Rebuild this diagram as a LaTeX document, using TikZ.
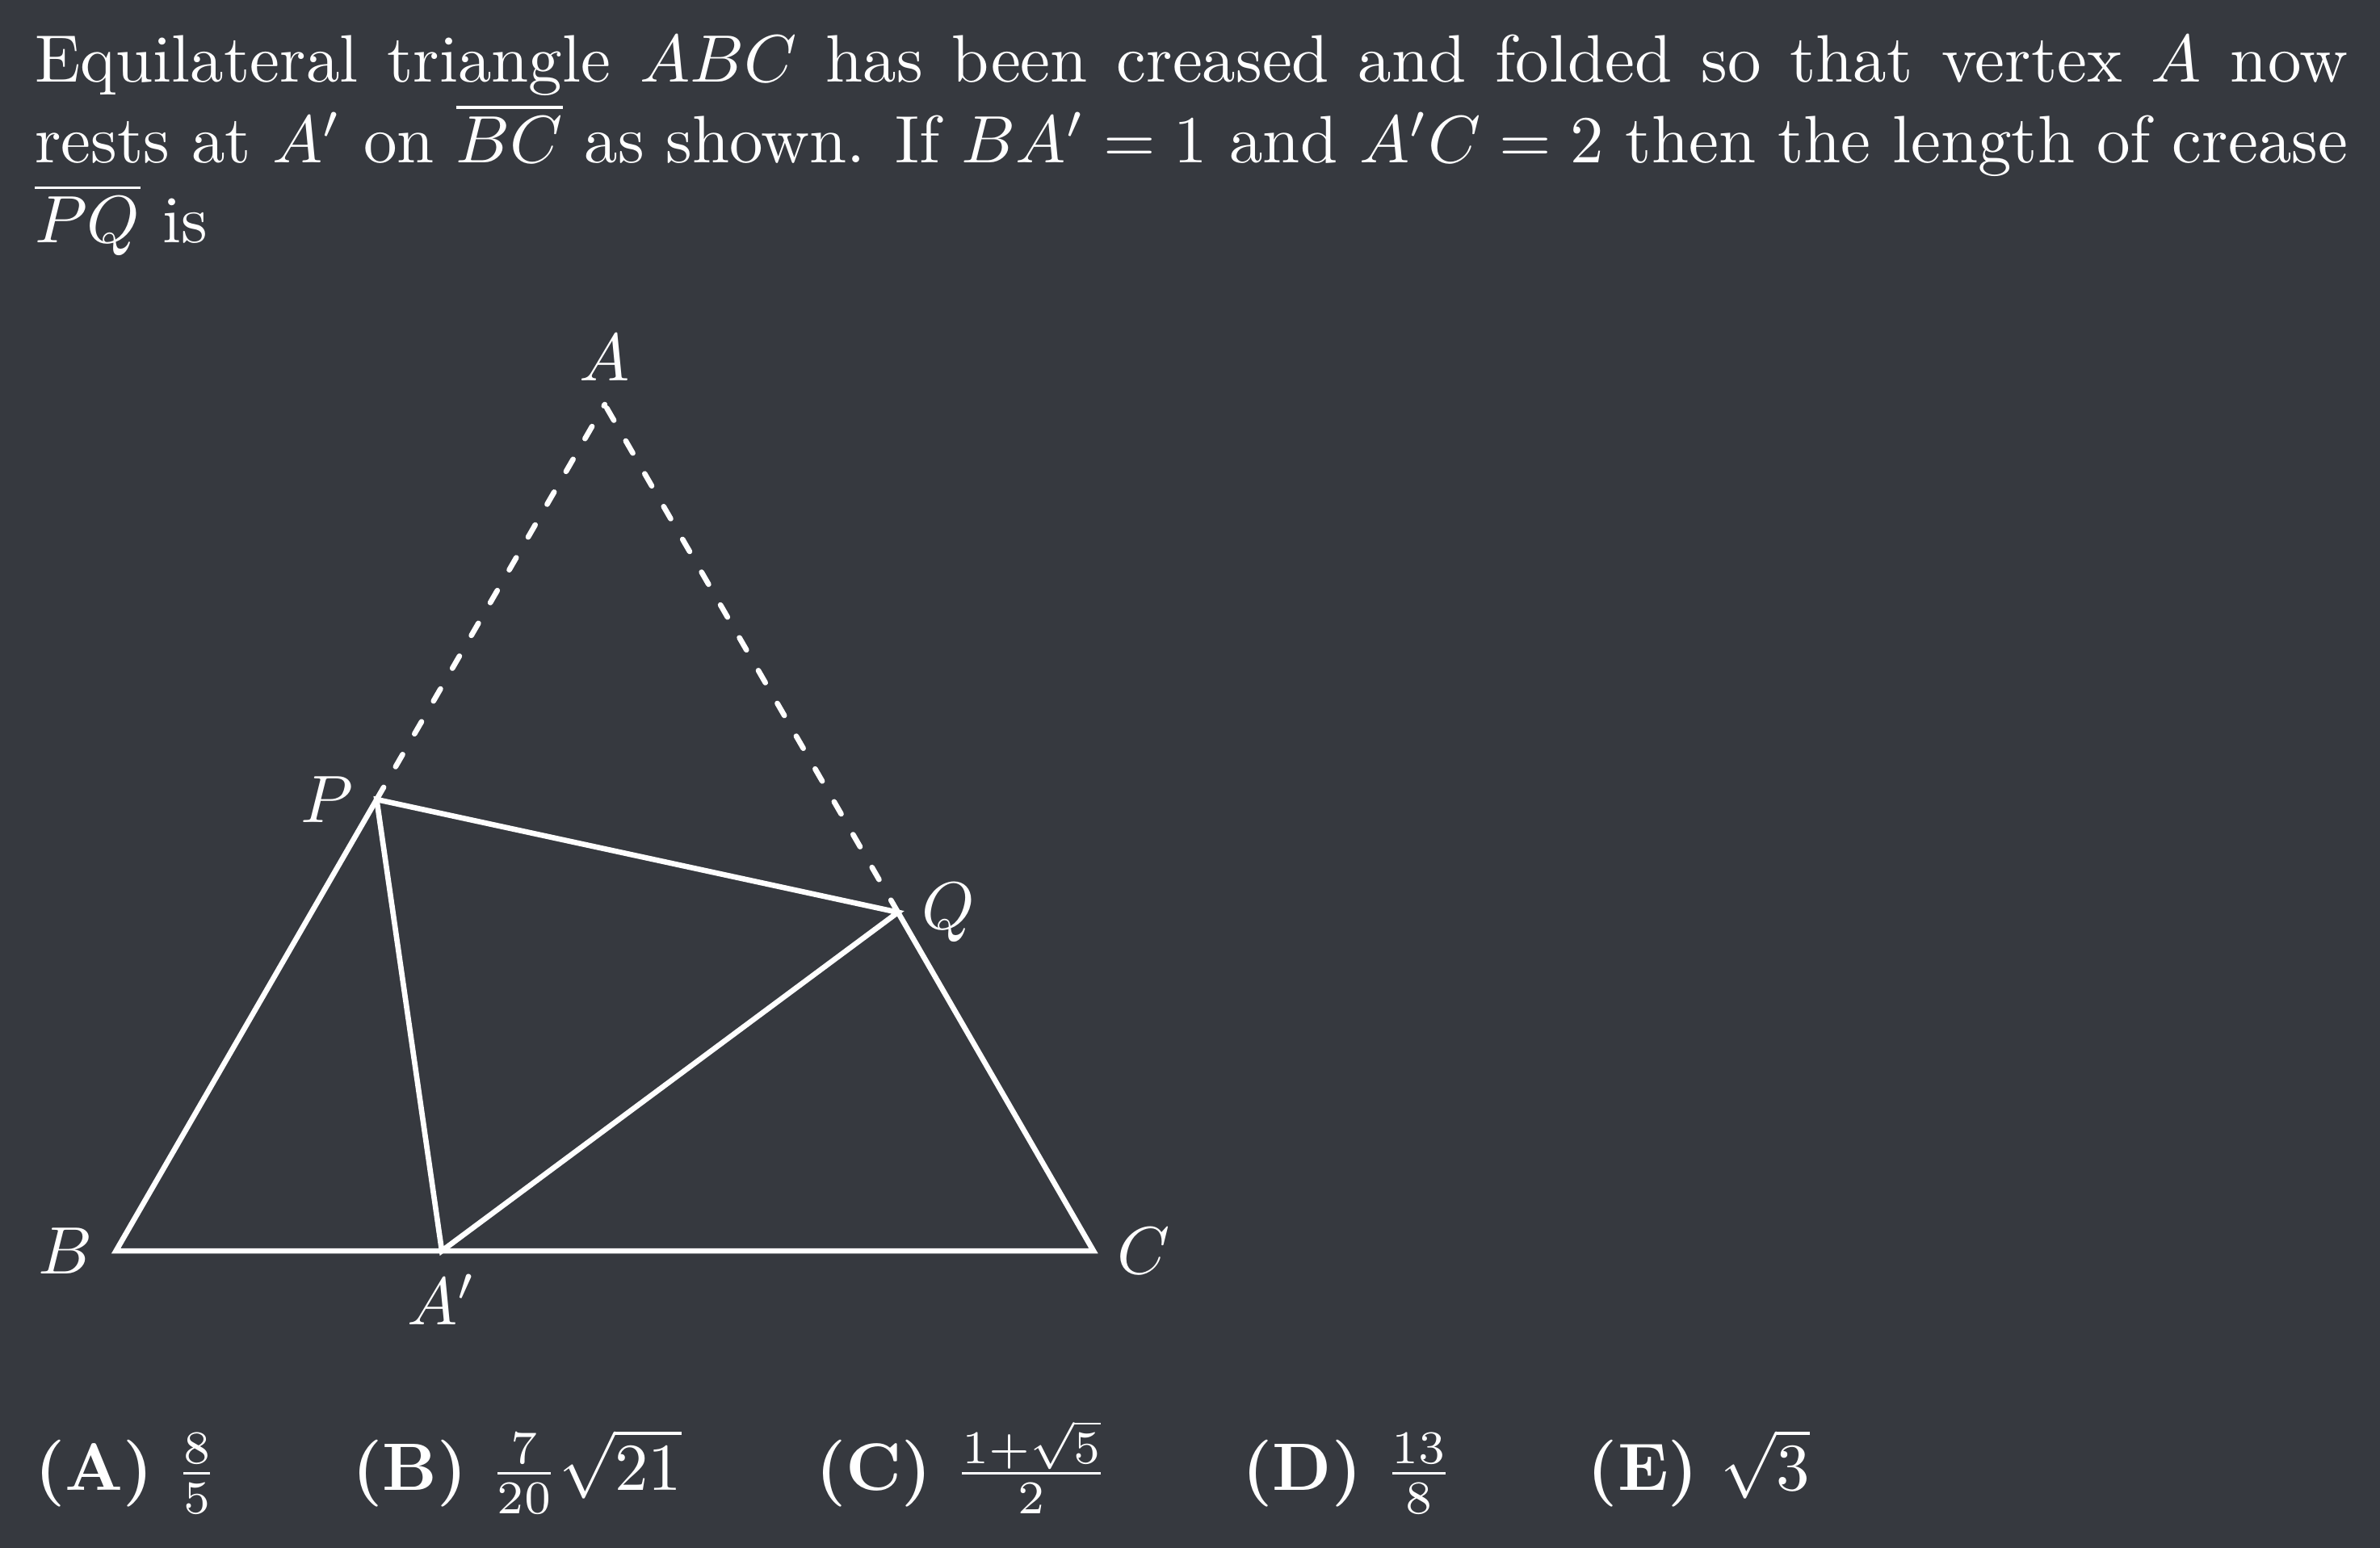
\documentclass[tikz,border=0pt]{standalone}
\usepackage{amsmath}
\definecolor{bg}{HTML}{36393F}
\begin{document}
\begin{tikzpicture}[x=1pt,y=1pt,
  edge/.style={draw=white, line width=0.8pt},
  foldline/.style={draw=white, line width=0.8pt, line cap=round, dash pattern=on 2.1pt off 3.55pt},
  ptlabel/.style={text=white},
  prose/.style={text=white, inner sep=0pt}]
\fill[bg] (0,0) rectangle (355,230.9);
\useasboundingbox (0,0) rectangle (355,230.9);
\node[prose, anchor=north west, text width=345pt, align=justify] (question) at (5,225.9)
  {Equilateral triangle $ABC$ has been creased and folded so that vertex $A$ now rests at $A'$ on $\overline{BC}$ as shown. If $BA'=1$ and $A'C=2$ then the length of crease $\overline{PQ}$ is};
\begin{scope}[shift={(17.3,44.3)}, x=48.6pt, y=48.6pt]
  \coordinate (B) at (0,0);
  \coordinate (C) at (3,0);
  \coordinate (A) at (1.5,2.598);
  \coordinate (Ap) at (1,0);
  \coordinate (P) at (0.8,1.3856);
  \coordinate (Q) at (2.4,1.0392);
  \draw[foldline] (Q) -- (A);
  \draw[foldline] (P) -- (A);
  \draw[edge] (P) -- (B) -- (C) -- (Q);
  \draw[edge] (P) -- (Ap) -- (Q) -- cycle;
  \node[ptlabel, above] (labA) at (A) {$A$};
  \node[ptlabel, left] (labB) at (B) {$B$};
  \node[ptlabel, right] (labC) at (C) {$C$};
  \node[ptlabel, below] (labAp) at (Ap) {$A'$};
  \node[ptlabel, left] (labP) at (P) {$P$};
  \node[ptlabel, right] (labQ) at (Q) {$Q$};
\end{scope}
\node[prose, anchor=base west] (choices) at (5,8.6)
  {$\textbf{(A)}\ \frac{8}{5} \qquad \textbf{(B)}\ \frac{7}{20}\sqrt{21} \qquad \textbf{(C)}\ \frac{1+\sqrt{5}}{2} \qquad \textbf{(D)}\ \frac{13}{8} \qquad \textbf{(E)}\ \sqrt{3}$};
\end{tikzpicture}
\end{document}
